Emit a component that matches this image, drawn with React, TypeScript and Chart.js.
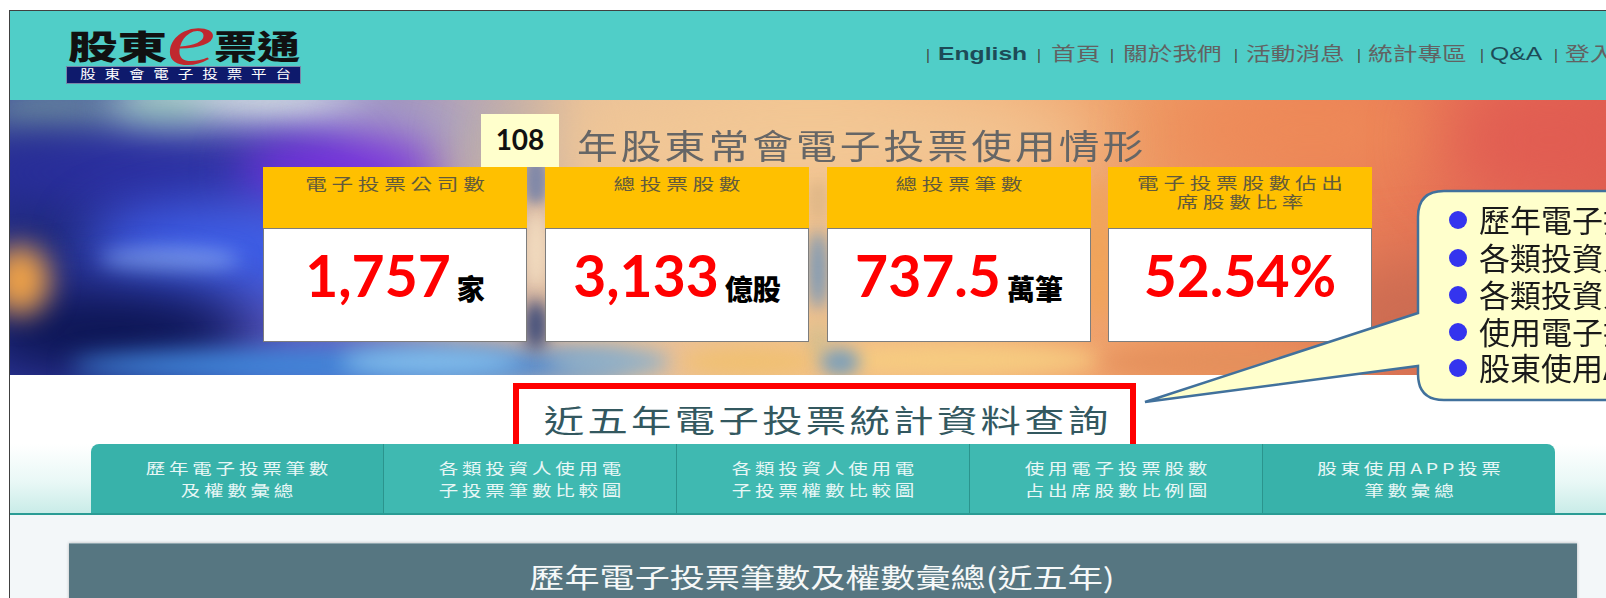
import React, { useEffect, useRef } from 'react';
import { Chart, registerables } from 'chart.js';

Chart.register(...registerables);

const CJK = '"Noto Sans CJK TC","Noto Sans CJK SC",sans-serif';
const LATO = 'Lato,"Open Sans",sans-serif';
const ARIAL = '"Liberation Sans",Arial,sans-serif';

// ---------------- data ----------------
const reportYear = '108';
const reportTitle = '年股東常會電子投票使用情形';
const kpiLabels: string[][] = [
  ['電子投票公司數'],
  ['總投票股數'],
  ['總投票筆數'],
  ['電子投票股數佔出', '席股數比率'],
];
const kpiValues: number[] = [1757, 3133, 737.5, 52.54];
const kpiDecimals: number[] = [0, 0, 1, 2];
const kpiSuffix: string[] = ['', '', '', '%'];
const kpiUnits: string[] = ['家', '億股', '萬筆', ''];
const navItems: string[] = ['English', '首頁', '關於我們', '活動消息', '統計專區', 'Q&A', '登入'];
const queryTitle = '近五年電子投票統計資料查詢';
const tabLines: string[][] = [
  ['歷年電子投票筆數', '及權數彙總'],
  ['各類投資人使用電', '子投票筆數比較圖'],
  ['各類投資人使用電', '子投票權數比較圖'],
  ['使用電子投票股數', '占出席股數比例圖'],
  ['股東使用APP投票', '筆數彙總'],
];
const panelTitle = '歷年電子投票筆數及權數彙總(近五年)';
const bubbleItems: string[] = [
  '歷年電子投票筆數及權數彙總',
  '各類投資人使用電子投票筆數比較圖',
  '各類投資人使用電子投票權數比較圖',
  '使用電子投票股數占出席股數比例圖',
  '股東使用APP投票筆數彙總',
];

function fmt(i: number) {
  const v = kpiValues[i];
  const d = kpiDecimals[i];
  return v.toLocaleString('en-US', { minimumFractionDigits: d, maximumFractionDigits: d }) + kpiSuffix[i];
}

// ---------------- banner background (Chart.js plugin) ----------------
type Blob = { x: number; y: number; rx: number; ry: number; c: string; b: number; a?: number };
const bannerStops: [number, string][] = [
  [0, '#30389e'], [0.1, '#3a3eb0'], [0.2, '#6a62c0'], [0.28, '#c0a8a8'], [0.36, '#e8c09a'],
  [0.5, '#f2c28e'], [0.62, '#f2b07a'], [0.72, '#ee9a64'], [0.82, '#eb8458'], [0.92, '#e67056'], [1, '#e0624f'],
];
const blobs: Blob[] = [
  { x: 50, y: 15, rx: 80, ry: 25, c: '#7fa8a0', b: 20 },
  { x: 240, y: 6, rx: 130, ry: 30, c: '#eaf6ea', b: 22 },
  { x: 150, y: 14, rx: 50, ry: 22, c: '#a8e0c0', b: 18 },
  { x: 410, y: 22, rx: 100, ry: 32, c: '#a8a0c8', b: 28 },
  { x: 30, y: 110, rx: 70, ry: 70, c: '#1e2a78', b: 30 },
  { x: 140, y: 72, rx: 200, ry: 42, c: '#2a2e9e', b: 28 },
  { x: 330, y: 72, rx: 100, ry: 34, c: '#7a2ee0', b: 24 },
  { x: 220, y: 150, rx: 140, ry: 45, c: '#3c5ee8', b: 28 },
  { x: 160, y: 160, rx: 70, ry: 12, c: '#7c9cf4', b: 10 },
  { x: 100, y: 232, rx: 140, ry: 45, c: '#0b1450', b: 28 },
  { x: 10, y: 180, rx: 30, ry: 35, c: '#eca048', b: 14 },
  { x: 340, y: 266, rx: 280, ry: 18, c: '#3f86d8', b: 12 },
  { x: 420, y: 262, rx: 90, ry: 12, c: '#86c0ec', b: 10 },
  { x: 505, y: 40, rx: 55, ry: 40, c: '#b9adab', b: 24 },
  { x: 800, y: 40, rx: 300, ry: 45, c: '#f2c896', b: 34 },
  { x: 1300, y: 30, rx: 150, ry: 40, c: '#ee8a58', b: 34 },
  { x: 1540, y: 40, rx: 110, ry: 60, c: '#e05a52', b: 34, a: 0.85 },
  { x: 1420, y: 215, rx: 110, ry: 60, c: '#cc6c52', b: 30 },
  { x: 1500, y: 262, rx: 120, ry: 20, c: '#d57555', b: 16 },
  { x: 526, y: 80, rx: 12, ry: 25, c: '#8088a8', b: 6 },
  { x: 526, y: 150, rx: 12, ry: 40, c: '#f2dcc0', b: 8 },
  { x: 526, y: 225, rx: 12, ry: 25, c: '#3e4c7a', b: 8 },
  { x: 808, y: 100, rx: 10, ry: 20, c: '#e0b888', b: 6 },
  { x: 808, y: 170, rx: 10, ry: 40, c: '#7898b8', b: 8 },
  { x: 808, y: 240, rx: 12, ry: 20, c: '#d8c090', b: 8 },
  { x: 1089, y: 150, rx: 12, ry: 70, c: '#f0a458', b: 8 },
  { x: 600, y: 262, rx: 60, ry: 14, c: '#8fb0c8', b: 10 },
  { x: 740, y: 262, rx: 70, ry: 14, c: '#f0c070', b: 10 },
  { x: 950, y: 260, rx: 140, ry: 16, c: '#f6cc80', b: 10 },
  { x: 830, y: 262, rx: 20, ry: 14, c: '#7fa0b8', b: 8 },
  { x: 1230, y: 262, rx: 140, ry: 16, c: '#e4905c', b: 10 },
];

const bannerPlugin = {
  id: 'bannerBg',
  beforeDraw(chart: any) {
    const ctx: CanvasRenderingContext2D = chart.ctx;
    const w = chart.width;
    const h = chart.height;
    ctx.save();
    const g = ctx.createLinearGradient(0, 0, w, 0);
    bannerStops.forEach(([p, c]) => g.addColorStop(p, c));
    ctx.fillStyle = g;
    ctx.fillRect(0, 0, w, h);
    blobs.forEach((b) => {
      ctx.filter = `blur(${b.b}px)`;
      ctx.globalAlpha = b.a ?? 1;
      ctx.fillStyle = b.c;
      ctx.beginPath();
      ctx.ellipse(b.x, b.y, b.rx, b.ry, 0, 0, Math.PI * 2);
      ctx.fill();
    });
    ctx.restore();
  },
};

function Banner() {
  const ref = useRef<HTMLCanvasElement>(null);
  useEffect(() => {
    const chart = new Chart(ref.current as HTMLCanvasElement, {
      type: 'bar',
      data: { labels: [], datasets: [] },
      options: {
        animation: false,
        responsive: false,
        events: [],
        plugins: { legend: { display: false }, tooltip: { enabled: false } },
        scales: { x: { display: false }, y: { display: false } },
      },
      plugins: [bannerPlugin],
    } as any);
    return () => chart.destroy();
  }, []);
  return (
    <canvas
      ref={ref}
      width={1596}
      height={275}
      style={{ position: 'absolute', left: 10, top: 100, width: 1596, height: 275, display: 'block' }}
    />
  );
}

// ---------------- text helper ----------------
type TP = {
  x: number; y: number; size: number; color?: string; sx?: number; ls?: number;
  weight?: number; family?: string; anchor?: 'c' | 'l'; italic?: boolean; children: React.ReactNode;
};
function T({ x, y, size, color = '#000', sx = 1, ls = 0, weight = 400, family = CJK, anchor = 'c', italic = false, children }: TP) {
  const top = family === CJK ? y - size * 0.05 : y;
  return (
    <div
      style={{
        position: 'absolute', left: x, top, fontSize: size, lineHeight: 1, color, fontWeight: weight,
        fontFamily: family, letterSpacing: ls, whiteSpace: 'nowrap', fontStyle: italic ? 'italic' : 'normal',
        paddingLeft: anchor === 'c' ? ls : 0,
        transform: `translate(${anchor === 'c' ? '-50%' : '0'}, -50%) scaleX(${sx})`,
        transformOrigin: anchor === 'c' ? '50% 50%' : '0 50%',
      }}
    >
      {children}
    </div>
  );
}

const navX = [938, 1051, 1123, 1246, 1368, 1490, 1565];
const sepX = [926, 1037, 1110, 1234, 1357, 1480, 1554];
const cardX = [263, 545, 827, 1108];
const CARD_W = 264;
const bubbleY = [220, 258, 295, 332, 368];

export default function App() {
  return (
    <div style={{ position: 'fixed', left: 0, top: 0, width: 1606, height: 598, overflow: 'hidden', background: '#fff' }}>
      {/* frame lines */}
      <div style={{ position: 'absolute', left: 9, top: 10, width: 1, height: 588, background: '#404040' }} />
      <div style={{ position: 'absolute', left: 9, top: 10, width: 1597, height: 1, background: '#404040' }} />

      {/* header */}
      <div style={{ position: 'absolute', left: 10, top: 11, width: 1596, height: 89, background: '#50cec8' }} />
      <T x={68} y={47} size={33} sx={1.5} weight={900} color="#111" anchor="l">股東</T>
      <T x={191} y={38} size={76} sx={1.45} family='"Liberation Serif",serif' italic color="#c0282e">e</T>
      <T x={214} y={47} size={33} sx={1.3} weight={900} color="#111" anchor="l">票通</T>
      <div style={{ position: 'absolute', left: 67, top: 67, width: 233, height: 16, background: '#0e1a6c', boxShadow: '0 0 0 1px #7a86a8' }} />
      <T x={80} y={75} size={12} sx={1.3} ls={6.8} color="#fff" anchor="l">股東會電子投票平台</T>

      {/* nav */}
      {sepX.map((x, i) => (
        <T key={'s' + i} x={x} y={54} size={15} color="#444" family={ARIAL} anchor="l">|</T>
      ))}
      {navItems.map((t, i) => {
        const latin = /^[A-Za-z&]+$/.test(t);
        return (
          <T
            key={'n' + i}
            x={navX[i]}
            y={53}
            size={19}
            sx={1.3}
            anchor="l"
            family={latin ? ARIAL : CJK}
            weight={t === 'English' ? 700 : 400}
            color={latin ? '#1d4b57' : '#626262'}
          >
            {t}
          </T>
        );
      })}

      {/* banner */}
      <Banner />
      <div style={{ position: 'absolute', left: 481, top: 114, width: 78, height: 53, background: '#ffffcc' }} />
      <T x={520} y={139} size={28} weight={700} family={LATO} color="#111">{reportYear}</T>
      <T x={577} y={147} size={34} sx={1.2} ls={2.5} color="#666" anchor="l">{reportTitle}</T>

      {cardX.map((x, i) => (
        <React.Fragment key={'c' + i}>
          <div style={{ position: 'absolute', left: x, top: 167, width: CARD_W, height: 62, background: '#ffc000' }} />
          <div
            style={{
              position: 'absolute', left: x, top: 228, width: CARD_W - 2, height: 112,
              background: '#fff', border: '1px solid #7d7d7d',
            }}
          />
          {kpiLabels[i].map((l, j) => (
            <T
              key={j}
              x={x + CARD_W / 2}
              y={kpiLabels[i].length === 1 ? 184 : 183 + j * 19}
              size={16}
              sx={1.35}
              ls={3.5}
              color="#625a3c"
            >
              {l}
            </T>
          ))}
          <div
            style={{
              position: 'absolute', left: x, top: 247, width: CARD_W, display: 'flex',
              justifyContent: 'center', alignItems: 'baseline', whiteSpace: 'nowrap',
            }}
          >
            <span style={{ fontFamily: LATO, fontWeight: 700, fontSize: 57, lineHeight: '57px', color: '#ff0000' }}>
              {fmt(i)}
            </span>
            {kpiUnits[i] ? (
              <span
                style={{
                  fontFamily: CJK, fontWeight: 900, fontSize: 28, lineHeight: '57px', color: '#000',
                  marginLeft: 6, position: 'relative', top: 3,
                }}
              >
                {kpiUnits[i]}
              </span>
            ) : null}
          </div>
        </React.Fragment>
      ))}

      {/* query title box */}
      <div
        style={{
          position: 'absolute', left: 513, top: 383, width: 611, height: 60,
          border: '6px solid #ff0000', background: '#fff',
        }}
      />
      <T x={826} y={420} size={31} sx={1.3} ls={2.6} color="#33585f">{queryTitle}</T>

      {/* tab band */}
      <div
        style={{
          position: 'absolute', left: 10, top: 444, width: 1596, height: 69,
          background: 'linear-gradient(to bottom, #ffffff 0%, #e9f8f6 55%, #c9ece8 100%)',
        }}
      />
      <div
        style={{
          position: 'absolute', left: 91, top: 444, width: 1464, height: 69, display: 'flex',
          borderRadius: '8px 8px 0 0', overflow: 'hidden',
        }}
      >
        {tabLines.map((lines, i) => (
          <div
            key={'t' + i}
            style={{
              flex: 1, position: 'relative',
              background: i === 0 || i === 4 ? '#38b2aa' : '#3fb9b1',
              borderLeft: i === 0 ? 'none' : '1px solid #2b948d',
            }}
          >
            {lines.map((l, j) => (
              <T key={j} x={146} y={24 + j * 22} size={15} sx={1.3} ls={2.9} color="#e8f7f6">{l}</T>
            ))}
          </div>
        ))}
      </div>
      <div style={{ position: 'absolute', left: 10, top: 513, width: 1596, height: 2, background: '#2a9c95' }} />
      <div style={{ position: 'absolute', left: 10, top: 515, width: 1596, height: 83, background: '#f3f7f9' }} />

      {/* panel */}
      <div
        style={{
          position: 'absolute', left: 69, top: 543, width: 1508, height: 80, background: '#567681',
          borderTop: '1px solid #8ea6ae', boxShadow: '0 0 3px rgba(0,0,0,0.25)',
        }}
      />
      <T x={822} y={577} size={27} sx={1.3} color="#f5f8f8">{panelTitle}</T>

      {/* callout bubble */}
      <svg
        width={1606}
        height={598}
        style={{ position: 'absolute', left: 0, top: 0, pointerEvents: 'none', overflow: 'hidden' }}
      >
        <path
          d="M1444,191 L1700,191 L1700,400 L1444,400 Q1418,400 1418,374 L1418,366 L1145,402 L1418,313 L1418,217 Q1418,191 1444,191 Z"
          fill="#ffffcc"
          stroke="#41719c"
          strokeWidth={2.5}
          strokeLinejoin="miter"
        />
        {bubbleY.map((y, i) => (
          <circle key={i} cx={1458} cy={y} r={9} fill="#3434ee" />
        ))}
      </svg>
      {bubbleItems.map((t, i) => (
        <T key={'b' + i} x={1479} y={bubbleY[i]} size={31} color="#1a1a1a" anchor="l">{t}</T>
      ))}
    </div>
  );
}
